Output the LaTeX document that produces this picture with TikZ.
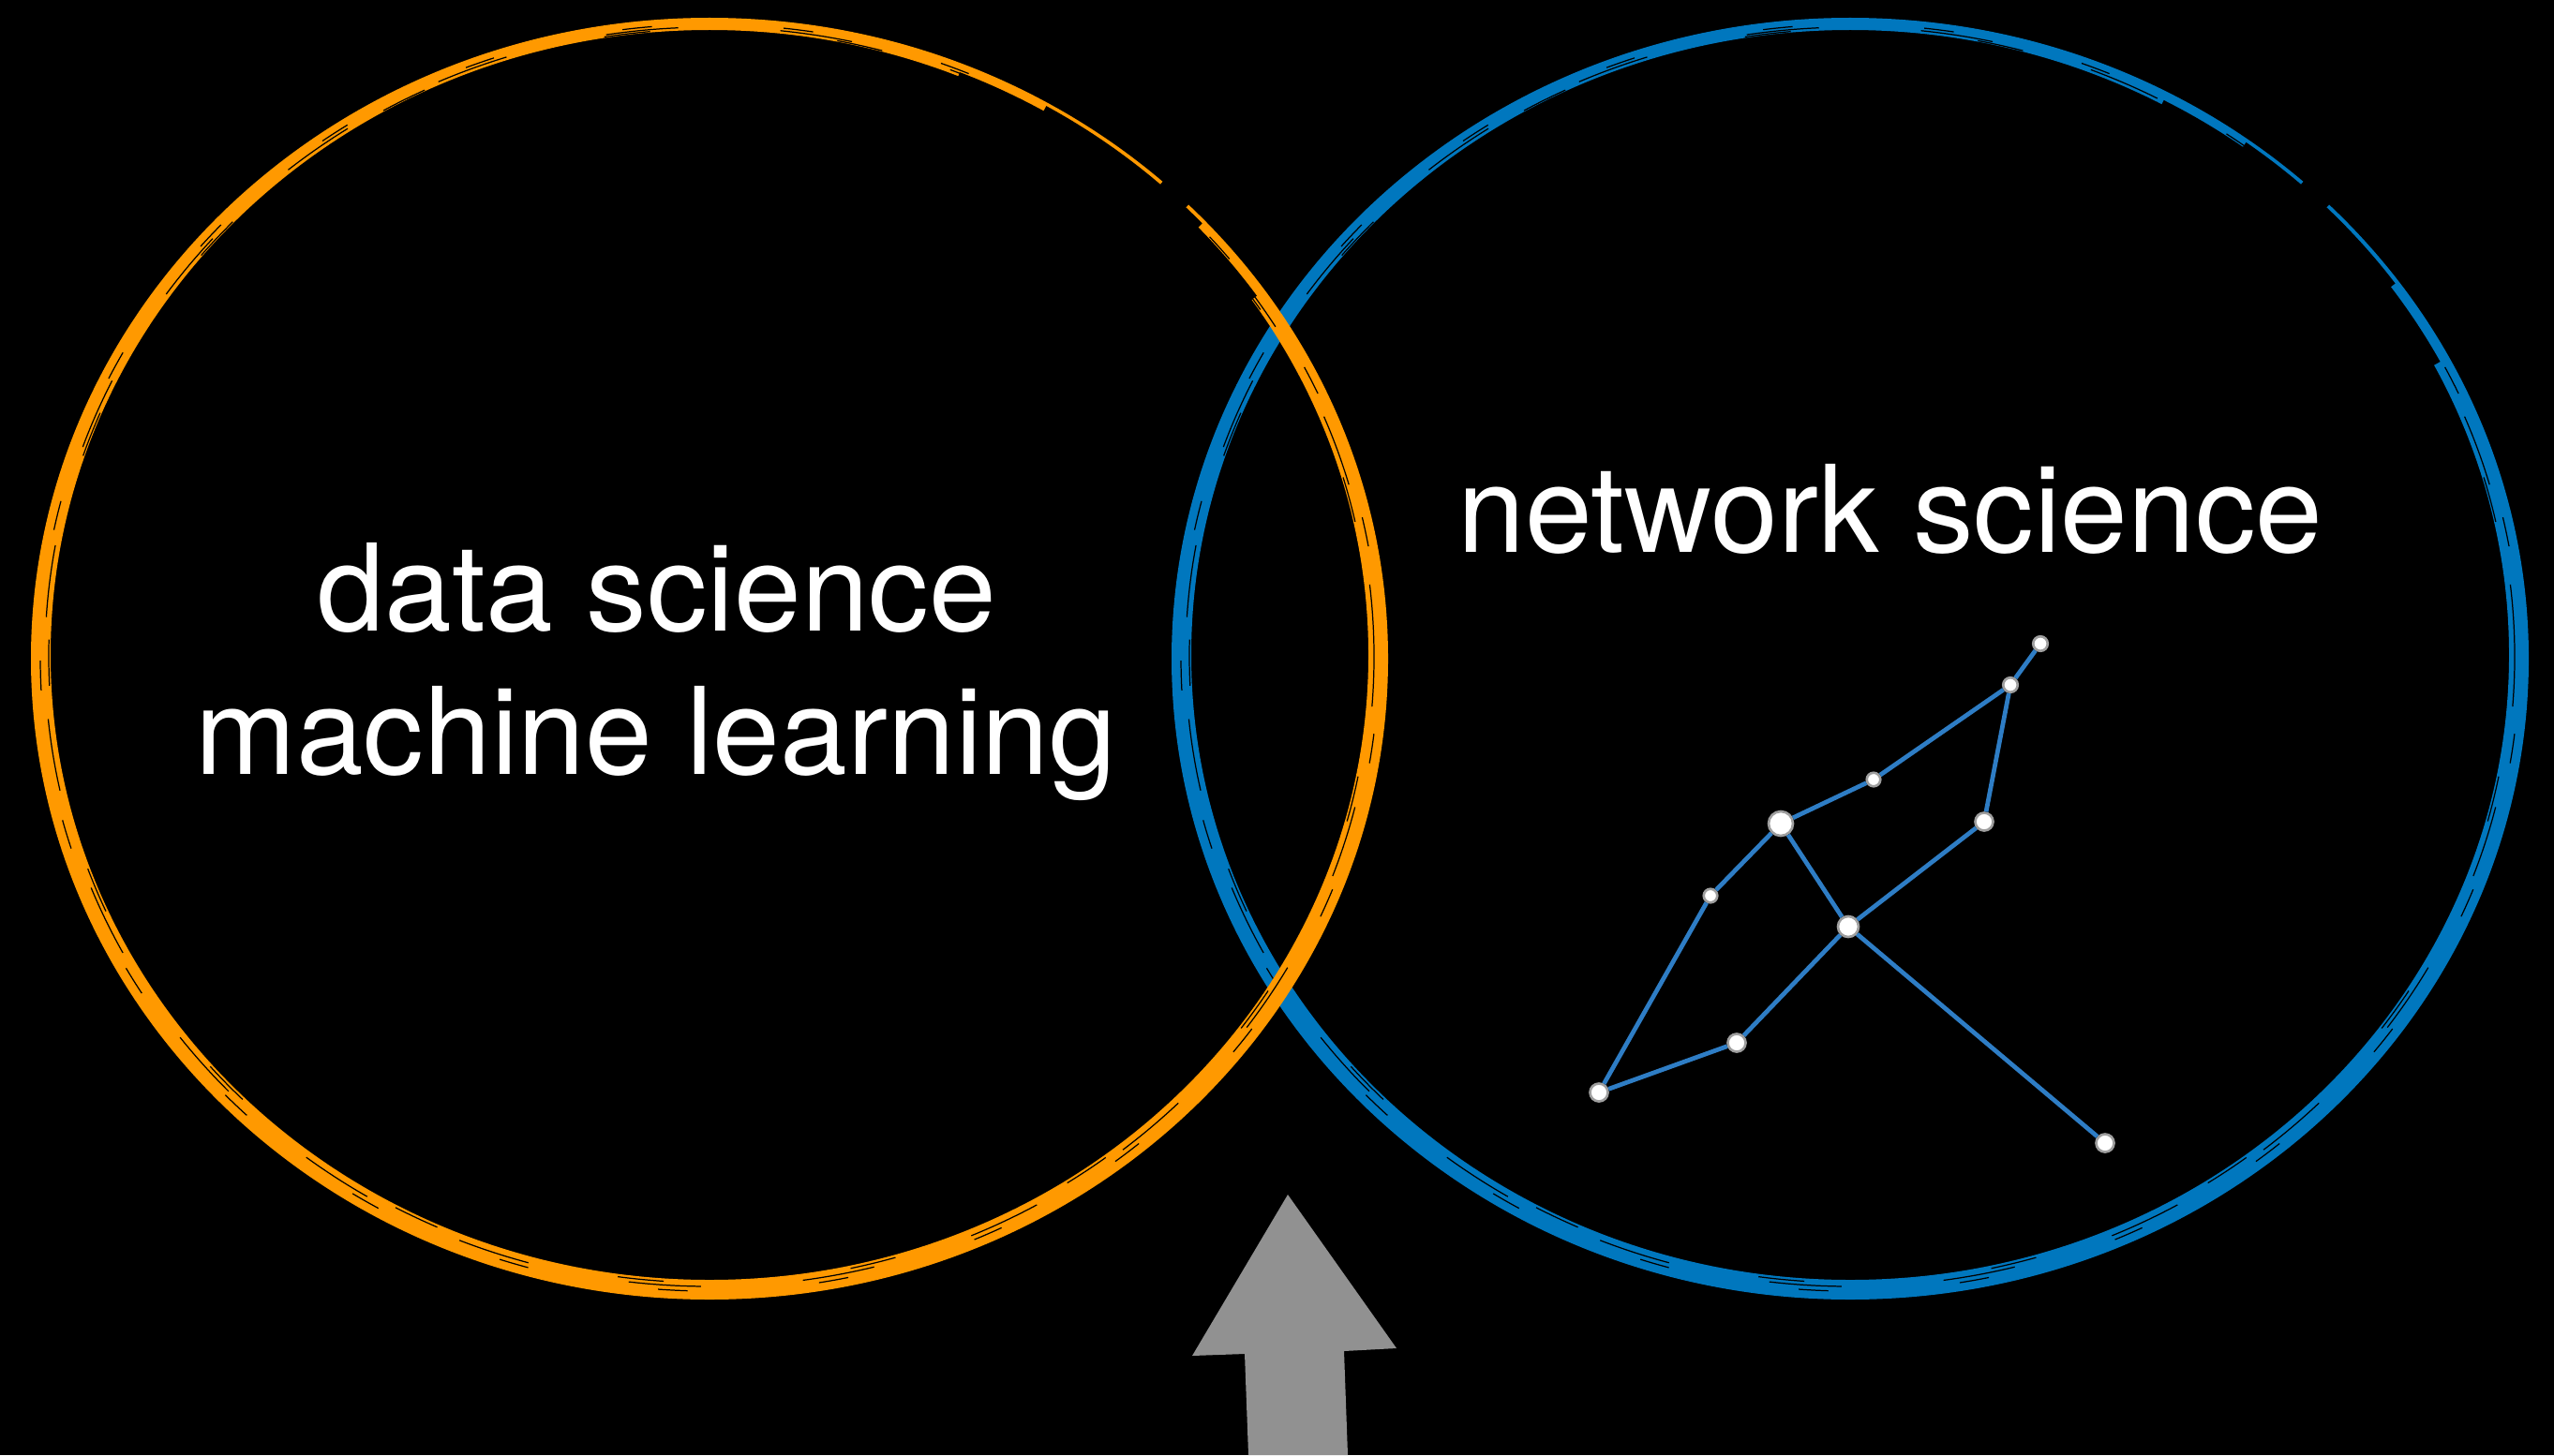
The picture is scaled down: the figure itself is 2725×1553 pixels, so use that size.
\documentclass[tikz,border=0pt]{standalone}
\usepackage{fontspec}
\setmainfont{TeX Gyre Heros}

\definecolor{dsorange}{RGB}{255,153,0}
\definecolor{nsblue}{RGB}{0,119,190}
\definecolor{linkblue}{RGB}{46,125,197}
\definecolor{arrowgray}{RGB}{145,145,145}

\tikzstyle{bigtext} = [text=white, font=\fontsize{36.7}{44}\selectfont, anchor=base, inner sep=0pt]
\tikzstyle{vertex} = [circle, fill=white, draw=gray!75, line width=0.75pt, inner sep=0pt, minimum size=0.155cm]
\tikzstyle{link} = [linkblue, line width=1.35pt]
\tikzstyle{streak} = [black, line width=0.35pt]

% brush drawn ring: centre x, centre y, colour, thin part from/to (angle)
\newcommand{\brushring}[5]{%
  \begin{scope}[shift={(#1,#2)}]
    \fill[#3, even odd rule] (0,0) ellipse [x radius=724, y radius=684]
                             (0,4) ellipse [x radius=703, y radius=667];
    % dry streaks
    \draw[streak, dash pattern=on 22pt off 31pt] (0,2) ellipse [x radius=709, y radius=672];
    \draw[streak, dash pattern=on 9pt off 40pt, dash phase=15pt] (0,1) ellipse [x radius=714, y radius=676];
    \draw[streak, dash pattern=on 14pt off 57pt, dash phase=30pt] (0,3) ellipse [x radius=705, y radius=669];
    % thin and broken top right
    \draw[black, line width=2.85pt] (#4:708 and 670) arc[start angle=#4, end angle=#5, x radius=708, y radius=670];
    \draw[black, line width=4.55pt] (#4+8:711 and 673) arc[start angle=#4+8, end angle=#5-8, x radius=711, y radius=673];
    \draw[black, line width=9pt] (45:713 and 675) arc[start angle=45, end angle=48, x radius=713, y radius=675];
  \end{scope}}

\begin{document}
\begin{tikzpicture}[x=0.01cm, y=0.01cm]
\useasboundingbox (0,0) rectangle (2725,1553);
\fill[black] (0,0) rectangle (2725,1553);

\brushring{1974}{850}{nsblue}{28}{62}
\brushring{757}{850}{dsorange}{35}{68}

\node (ds) [bigtext] at (701,880) {data science};
\node (ml) [bigtext] at (700,727) {machine learning};
\node (ns) [bigtext] at (2017,964) {network science};

% small network
\node (v1) [vertex] at (2177,866) {};
\node (v2) [vertex] at (2145,822) {};
\node (v3) [vertex, minimum size=0.145cm] at (1999,721) {};
\node (v4) [vertex, minimum size=0.26cm] at (1900,674) {};
\node (v5) [vertex, minimum size=0.19cm] at (2117,676) {};
\node (v6) [vertex, minimum size=0.145cm] at (1825,597) {};
\node (v7) [vertex, minimum size=0.22cm] at (1972,564) {};
\node (v8) [vertex, minimum size=0.19cm] at (1853,440) {};
\node (v9) [vertex, minimum size=0.19cm] at (1706,387) {};
\node (v10) [vertex, minimum size=0.19cm] at (2246,333) {};
\draw [link] (v1) -- (v2);
\draw [link] (v2) -- (v3);
\draw [link] (v3) -- (v4);
\draw [link] (v2) -- (v5);
\draw [link] (v5) -- (v7);
\draw [link] (v4) -- (v7);
\draw [link] (v4) -- (v6);
\draw [link] (v6) -- (v9);
\draw [link] (v9) -- (v8);
\draw [link] (v8) -- (v7);
\draw [link] (v7) -- (v10);

% pointer to the overlap
\fill[arrowgray] (1374,278) -- (1490,114) -- (1434,111) -- (1438,0) -- (1332,0) -- (1328,108) -- (1272,106) -- cycle;
\end{tikzpicture}
\end{document}
